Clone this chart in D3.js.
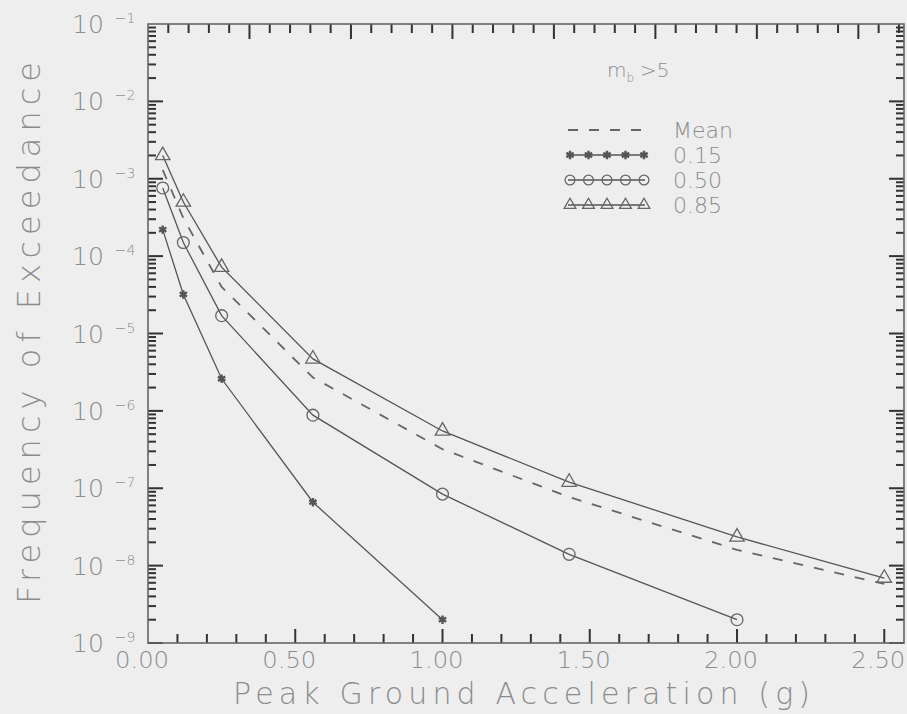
<!DOCTYPE html>
<html>
<head>
<meta charset="utf-8">
<script src="https://d3js.org/d3.v7.min.js"></script>
<style>
  body { margin: 0; background: #eeeeee; }
  svg text { font-family: "DejaVu Sans", sans-serif; font-weight: 200; fill: #8c8c8c; }
</style>
</head>
<body>
<div id="chart"></div>
<script>
// peak ground acceleration (g)
const pga = [0.05, 0.12, 0.25, 0.56, 1.00, 1.43, 2.00, 2.50];

// annual frequency of exceedance, per fractile
const mean = [1.3e-3, 3.1e-4, 4.0e-5, 2.7e-6, 3.2e-7, 7.7e-8, 1.6e-8, 5.8e-9];
const p15  = [2.2e-4, 3.2e-5, 2.6e-6, 6.6e-8, 2.0e-9];
const p50  = [7.6e-4, 1.5e-4, 1.7e-5, 8.8e-7, 8.4e-8, 1.4e-8, 2.0e-9];
const p85  = [2.0e-3, 5.0e-4, 7.2e-5, 4.7e-6, 5.5e-7, 1.2e-7, 2.35e-8, 6.9e-9];

const xTicks = [0, 0.5, 1.0, 1.5, 2.0, 2.5];
const yExps = [-1, -2, -3, -4, -5, -6, -7, -8, -9];
const legendLabels = ["Mean", "0.15", "0.50", "0.85"];

const W = 907, H = 714;
const svg = d3.select("#chart").append("svg")
  .attr("width", W).attr("height", H);

svg.append("rect").attr("width", W).attr("height", H).attr("fill", "#eeeeee");

const x = d3.scaleLinear().domain([0, 2.567]).range([148, 904]);
const y = d3.scaleLog().domain([1e-9, 1e-1]).range([643, 24]);
const ink = "#555";
const tk = "#333";

// ticks, all pointing inward
const minorX = d3.range(1, 26).map(i => i / 10);
const xt = d3.scaleLinear().domain([0, 37.25]).range([148, 904]);
const logTicks = [];
for (let e = -9; e < -1; e++) for (let m = 1; m < 10; m++) logTicks.push(m * Math.pow(10, e));

const yb = y(1e-9), ytop = y(1e-1);
const xl = x(0), xr = x(2.567);
const tg = svg.append("g");

tg.selectAll("rect.bx").data(minorX).join("rect").attr("class", "bx")
  .attr("x", d => x(d) - 1).attr("width", 2)
  .attr("y", (d, i) => yb - ((i + 1) % 5 === 0 ? 14 : 9))
  .attr("height", (d, i) => ((i + 1) % 5 === 0 ? 14 : 9))
  .attr("fill", tk);

tg.selectAll("rect.tx").data(d3.range(1, 38)).join("rect").attr("class", "tx")
  .attr("x", d => xt(d) - 1).attr("width", 2)
  .attr("y", ytop).attr("height", d => (d % 5 === 0 ? 15 : 9))
  .attr("fill", tk);

tg.selectAll("rect.ly").data(logTicks).join("rect").attr("class", "ly")
  .attr("x", xl).attr("width", (d, i) => (i % 9 === 0 ? 15 : 8))
  .attr("y", d => y(d) - 1).attr("height", 2)
  .attr("fill", tk);

tg.selectAll("rect.ry").data(logTicks).join("rect").attr("class", "ry")
  .attr("x", (d, i) => xr - (i % 9 === 0 ? 15 : 8)).attr("width", (d, i) => (i % 9 === 0 ? 15 : 8))
  .attr("y", d => y(d) - 1).attr("height", 2)
  .attr("fill", tk);

// frame
svg.append("rect")
  .attr("x", x(0)).attr("y", y(1e-1))
  .attr("width", x(2.567) - x(0)).attr("height", y(1e-9) - y(1e-1))
  .attr("fill", "none").attr("stroke", "#666").attr("stroke-width", 1.6);

// y tick labels
const yl = svg.append("g").selectAll("text").data(yExps).join("text")
  .attr("x", 72).attr("y", d => y(Math.pow(10, d)) + 9)
  .attr("font-size", 25);
yl.append("tspan").text("10");
yl.append("tspan").attr("dx", 11).attr("dy", -10).attr("font-size", 14)
  .text(d => "\u2212" + (-d));

// x tick labels
svg.append("g").selectAll("text").data(xTicks).join("text")
  .attr("x", d => x(d) - 6).attr("y", 668)
  .attr("text-anchor", "middle").attr("font-size", 23)
  .attr("textLength", 54).attr("lengthAdjust", "spacingAndGlyphs")
  .text(d => d.toFixed(2));

// axis titles
svg.append("text")
  .attr("x", 233).attr("y", 704)
  .attr("font-size", 30)
  .attr("textLength", 577).attr("lengthAdjust", "spacing")
  .text("Peak Ground Acceleration (g)");

svg.append("text")
  .attr("transform", "translate(40,604) rotate(-90)")
  .attr("font-size", 32)
  .attr("textLength", 542).attr("lengthAdjust", "spacing")
  .text("Frequency of Exceedance");

// series
const line = d3.line().x(d => x(d[0])).y(d => y(d[1]));
const pairs = vals => vals.map((v, i) => [pga[i], v]);

svg.append("path").datum(pairs(mean))
  .attr("d", line).attr("fill", "none")
  .attr("stroke", "#666").attr("stroke-width", 1.8)
  .attr("stroke-dasharray", "10,11");

[p15, p50, p85].forEach(s => {
  svg.append("path").datum(pairs(s))
    .attr("d", line).attr("fill", "none")
    .attr("stroke", ink).attr("stroke-width", 1.3);
});

const star = d3.symbol().type(d3.symbolAsterisk).size(50);
const circ = d3.symbol().type(d3.symbolCircle).size(110);
const tri = d3.symbol().type(d3.symbolTriangle).size(90);

function markers(data, kind, g) {
  const sel = g.selectAll("path.m").data(data).join("path").attr("class", "m")
    .attr("transform", d => `translate(${d[0]},${d[1]})`);
  if (kind === "star") {
    sel.attr("d", star).attr("fill", ink).attr("stroke", ink).attr("stroke-width", 2.4);
  } else if (kind === "circle") {
    sel.attr("d", circ).attr("fill", "none").attr("stroke", "#666").attr("stroke-width", 1.3);
  } else {
    sel.attr("d", tri).attr("fill", "none").attr("stroke", "#666").attr("stroke-width", 1.3);
  }
}

const pts = vals => vals.map((v, i) => [x(pga[i]), y(v)]);
markers(pts(p15), "star", svg.append("g"));
markers(pts(p50), "circle", svg.append("g"));
markers(pts(p85), "tri", svg.append("g"));

// legend
const lg = svg.append("g");
const mb = lg.append("text").attr("x", 607).attr("y", 77).attr("font-size", 20);
mb.append("tspan").text("m");
mb.append("tspan").attr("font-size", 12).attr("dy", 5).text("b");
mb.append("tspan").attr("font-size", 20).attr("dy", -5).attr("dx", 6).text(">5");

const rowY = [130, 155, 180, 205];
lg.selectAll("text.lab").data(legendLabels).join("text").attr("class", "lab")
  .attr("x", 673).attr("y", (d, i) => rowY[i] + 8)
  .attr("font-size", 22).text(d => d);

lg.append("line")
  .attr("x1", 568).attr("x2", 645).attr("y1", rowY[0]).attr("y2", rowY[0])
  .attr("stroke", "#666").attr("stroke-width", 1.8).attr("stroke-dasharray", "10,11");

const kinds = ["star", "circle", "tri"];
kinds.forEach((k, i) => {
  const yy = rowY[i + 1];
  lg.append("line").attr("x1", 568).attr("x2", 645).attr("y1", yy).attr("y2", yy)
    .attr("stroke", ink).attr("stroke-width", 1.3);
  const sx = d3.range(5).map(j => [570 + j * 18.5, yy]);
  const g = lg.append("g");
  markers(sx, k, g);
  if (k !== "star") g.selectAll("path").attr("d", k === "circle" ? d3.symbol().type(d3.symbolCircle).size(75) : d3.symbol().type(d3.symbolTriangle).size(60));
});
</script>
</body>
</html>
